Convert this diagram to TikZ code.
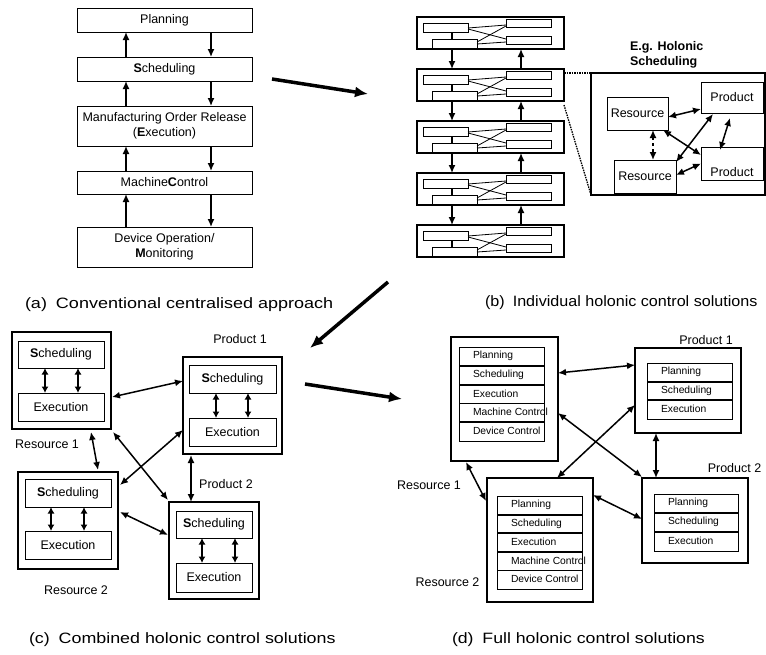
\documentclass[tikz,border=0pt]{standalone}
\usepackage{fontspec}
\usepackage{graphicx}
\setmainfont{Liberation Sans}
\usetikzlibrary{arrows.meta,calc}
\begin{document}
\begin{tikzpicture}[x=1pt,y=-1pt,
  every node/.style={font=\fontsize{12.5}{15.5}\selectfont, inner sep=0pt, outer sep=0pt},
  box/.style={draw, line width=0.9pt, fill=white, align=center},
  obox/.style={draw, line width=1.1pt, fill=white},
  minibox/.style={draw, line width=0.8pt, fill=white},
  link/.style={line width=0.8pt},
  tickline/.style={line width=1.8pt},
  uparr/.style={line width=1.4pt, -{Latex[length=8pt,width=7pt]}},
  dbl/.style={line width=1.5pt, {Latex[length=8pt,width=7pt]}-{Latex[length=8pt,width=7pt]}},
  vdbl/.style={line width=1.8pt, {Latex[length=6.5pt,width=7pt]}-{Latex[length=6.5pt,width=7pt]}},
  bigarr/.style={line width=3.5pt, -{Latex[length=13pt,width=11pt]}},
  row/.style={draw, line width=0.8pt},
  sepline/.style={line width=1.8pt},
  rowtxt/.style={font=\fontsize{10.3}{12}\selectfont, anchor=west},
  dotl/.style={line width=1.3pt, dash pattern=on 1.5pt off 1pt},
  captxt/.style={anchor=west, font=\fontsize{15}{18}\selectfont},
  lbl/.style={}
]
\useasboundingbox (0,0) rectangle (766,654);

% ---------------- (a) conventional ----------------
\node[box, minimum width=175pt, minimum height=24pt] (pl) at (164.5,20) {Planning};
\node[box, minimum width=175pt, minimum height=24pt] (sc) at (164.5,69) {{\bfseries S}cheduling};
\node[box, minimum width=175pt, minimum height=40pt] (mo) at (164.5,126) {Manufacturing Order Release\\({\bfseries E}xecution)};
\node[box, minimum width=175pt, minimum height=23pt] (mc) at (164.5,182.5) {Machine{\bfseries C}ontrol};
\node[box, minimum width=175pt, minimum height=40pt] (dv) at (164.5,247) {Device Operation/\\{\bfseries M}onitoring};
\coordinate (ax) at (126,0);
\coordinate (bx) at (211,0);
\draw[uparr] (sc.north -| ax) -- (pl.south -| ax);
\draw[uparr] (mo.north -| ax) -- (sc.south -| ax);
\draw[uparr] (mc.north -| ax) -- (mo.south -| ax);
\draw[uparr] (dv.north -| ax) -- (mc.south -| ax);
\draw[uparr] (pl.south -| bx) -- (sc.north -| bx);
\draw[uparr] (sc.south -| bx) -- (mo.north -| bx);
\draw[uparr] (mo.south -| bx) -- (mc.north -| bx);
\draw[uparr] (mc.south -| bx) -- (dv.north -| bx);
\node[captxt] (capa) at (25,305) {\scalebox{1.2}[1]{(a)\hspace{0.5em}Conventional centralised approach}};

% ---------------- (b) individual ----------------
\coordinate (tx) at (452,0);
\coordinate (ux) at (521,0);
\foreach \k in {0,...,4} {
  \pgfmathsetmacro\t{17+52*\k}
  \node[obox, minimum width=147pt, minimum height=32pt, anchor=north west] (b\k) at (417,\t) {};
  \node[minibox, minimum width=45pt, minimum height=9pt, anchor=north west] (b\k-ul) at (423,{\t+6}) {};
  \node[minibox, minimum width=45pt, minimum height=9pt, anchor=north west] (b\k-ll) at (432,{\t+22}) {};
  \node[minibox, minimum width=45pt, minimum height=8pt, anchor=north west] (b\k-ur) at (506,{\t+2}) {};
  \node[minibox, minimum width=45pt, minimum height=8pt, anchor=north west] (b\k-lr) at (506,{\t+19}) {};
  \draw[tickline] (b\k-ul.south -| tx) -- (b\k-ll.north -| tx);
  \draw[link] ([yshift=-0.5pt]b\k-ul.east) -- ([yshift=-2pt]b\k-ur.west);
  \draw[link] ([yshift=-1.5pt]b\k-ul.east) -- ([yshift=1pt]b\k-lr.west);
  \draw[link] ([yshift=1.5pt]b\k-ll.east) -- ([yshift=-3pt]b\k-ur.west);
  \draw[link] ([yshift=-0.5pt]b\k-ll.east) -- ([yshift=-2pt]b\k-lr.west);
}
\foreach \k/\n in {0/1,1/2,2/3,3/4} {
  \draw[uparr] (b\k.south -| tx) -- (b\n.north -| tx);
  \draw[uparr] (b\n.north -| ux) -- (b\k.south -| ux);
}
% holonic scheduling detail
\node[obox, minimum width=174pt, minimum height=122pt] (hb) at (678,134) {};
\node[anchor=west, align=left, font=\bfseries\fontsize{12.5}{15}\selectfont] (hbt) at (630,54.5) {E.g. Holonic\\Scheduling};
\draw[dotl] (b1.east |- hb.north) -- (hb.north west);
\draw[dotl] ([yshift=-4pt]b1.south east) -- (hb.south west);
\node[box, minimum width=61pt, minimum height=33pt] (hr1) at (637.5,113.5) {Resource};
\node[box, minimum width=62pt, minimum height=33pt] (hr2) at (645,176.5) {Resource};
\node[box, minimum width=62pt, minimum height=31pt] (hp1) at (732,97.5) {Product};
\node[box, minimum width=62pt, minimum height=33pt] (hp2) at (732,163.5) {};
\node (hp2t) at (732,172) {Product};
\draw[dbl] ($(hr1.east)+(0,3.5)$) -- ($(hp1.west)+(0,11.5)$);
\draw[dbl, dashed] ($(hr1.south)+(15.5,0)$) -- ($(hr2.north)+(8,0)$);
\draw[dbl] ($(hr1.south east)+(-5,0)$) -- ($(hp2.west)+(0,-8.5)$);
\draw[dbl] ($(hr2.north east)+(0,2)$) -- ($(hp1.south west)+(12,1)$);
\draw[dbl] ($(hr2.east)+(0,-1.5)$) -- (hp2.west);
\draw[dbl] ($(hp1.south)+(-2,5)$) -- ($(hp2.north)+(-12,3)$);
\node[captxt] (capb) at (485,303) {\scalebox{1.075}[1]{(b)\hspace{0.5em}Individual holonic control solutions}};

% ---------------- big arrows ----------------
\coordinate (g1s) at (272,79);
\coordinate (g1e) at (368,94);
\coordinate (g2s) at (388,282);
\coordinate (g2e) at (310,348);
\coordinate (g3s) at (305,384);
\coordinate (g3e) at (402,399);
\draw[bigarr] (g1s) -- (g1e);
\draw[bigarr] (g2s) -- (g2e);
\draw[bigarr] (g3s) -- (g3e);

% ---------------- (c) combined ----------------
\node[obox, minimum width=99pt, minimum height=97pt] (cR1) at (61.5,380.5) {};
\node[box, minimum width=86pt, minimum height=27pt] (cR1s) at (61,354.5) {{\bfseries S}cheduling};
\node[box, minimum width=86pt, minimum height=28pt] (cR1e) at (61,407) {Execution};
\draw[vdbl] ($(cR1s.south)+(-16,0)$) -- ($(cR1e.north)+(-16,0)$);
\draw[vdbl] ($(cR1s.south)+(17,0)$) -- ($(cR1e.north)+(17,0)$);

\node[obox, minimum width=99pt, minimum height=97pt] (cP1) at (232.5,405.5) {};
\node[box, minimum width=87pt, minimum height=28pt] (cP1s) at (232.5,379) {{\bfseries S}cheduling};
\node[box, minimum width=87pt, minimum height=28pt] (cP1e) at (232.5,432) {Execution};
\draw[vdbl] ($(cP1s.south)+(-16.5,0)$) -- ($(cP1e.north)+(-16.5,0)$);
\draw[vdbl] ($(cP1s.south)+(15.5,0)$) -- ($(cP1e.north)+(15.5,0)$);

\node[obox, minimum width=100pt, minimum height=97pt] (cR2) at (68,520.5) {};
\node[box, minimum width=86pt, minimum height=28pt] (cR2s) at (68,493) {{\bfseries S}cheduling};
\node[box, minimum width=86pt, minimum height=28pt] (cR2e) at (68,545) {Execution};
\draw[vdbl] ($(cR2s.south)+(-17,0)$) -- ($(cR2e.north)+(-17,0)$);
\draw[vdbl] ($(cR2s.south)+(16,0)$) -- ($(cR2e.north)+(16,0)$);

\node[obox, minimum width=90pt, minimum height=97pt] (cP2) at (214,550.5) {};
\node[box, minimum width=76pt, minimum height=27pt] (cP2s) at (214,524.5) {{\bfseries S}cheduling};
\node[box, minimum width=76pt, minimum height=29pt] (cP2e) at (214,577.5) {Execution};
\draw[vdbl] ($(cP2s.south)+(-12,0)$) -- ($(cP2e.north)+(-12,0)$);
\draw[vdbl] ($(cP2s.south)+(21,0)$) -- ($(cP2e.north)+(21,0)$);

\node[lbl] (cR1l) at (47,444) {Resource 1};
\node[lbl] (cP1l) at (240,339) {Product 1};
\node[lbl] (cP2l) at (226,484) {Product 2};
\node[lbl] (cR2l) at (76,590) {Resource 2};

\draw[dbl] ($(cR1.east)+(1,16.5)$) -- ($(cP1.west)+(0,-24.5)$);
\draw[dbl] ($(cR1.south)+(29.5,3)$) -- ($(cR2.north)+(30,-2)$);
\draw[dbl] ($(cR1.south east)+(2,3)$) -- ($(cP2.north west)+(-1,-2)$);
\draw[dbl] ($(cR2.north east)+(2,13)$) -- ($(cP1.west)+(0,24.5)$);
\draw[dbl] ($(cR2.east)+(2,-8.5)$) -- ($(cP2.west)+(-1,-15.5)$);
\draw[dbl] ($(cP1.south west)+(8,1)$) -- ($(cP2.north)+(-23,0)$);
\node[captxt] (capc) at (29,640) {\scalebox{1.19}[1]{(c)\hspace{0.5em}Combined holonic control solutions}};

% ---------------- (d) full ----------------
\node[obox, minimum width=107pt, minimum height=124pt] (dR1) at (504.5,399) {};
\foreach \t [count=\i from 0] in {Planning,Scheduling,Execution,Machine Control,Device Control} {
  \node[row, minimum width=85pt, minimum height=18.8pt, anchor=north west] (dR1r\i) at (459,{347+18.8*\i}) {};
  \node[rowtxt] (dR1t\i) at (473,{355.9+18.8*\i}) {\t};
}
\foreach \i in {0,...,3} \draw[sepline] (dR1r\i.south west) -- (dR1r\i.south east);

\node[obox, minimum width=106pt, minimum height=124pt] (dR2) at (540,540) {};
\foreach \t [count=\i from 0] in {Planning,Scheduling,Execution,Machine Control,Device Control} {
  \node[row, minimum width=85pt, minimum height=18.6pt, anchor=north west] (dR2r\i) at (497,{496+18.6*\i}) {};
  \node[rowtxt] (dR2t\i) at (511,{504.8+18.6*\i}) {\t};
}
\foreach \i in {0,...,3} \draw[sepline] (dR2r\i.south west) -- (dR2r\i.south east);

\node[obox, minimum width=106pt, minimum height=85pt] (dP1) at (688,390.5) {};
\foreach \t [count=\i from 0] in {Planning,Scheduling,Execution} {
  \node[row, minimum width=85pt, minimum height=18.67pt, anchor=north west] (dP1r\i) at (647,{363+18.67*\i}) {};
  \node[rowtxt] (dP1t\i) at (661,{371.8+18.67*\i}) {\t};
}
\foreach \i in {0,1} \draw[sepline] (dP1r\i.south west) -- (dP1r\i.south east);

\node[obox, minimum width=106pt, minimum height=85pt] (dP2) at (695,520.5) {};
\foreach \t [count=\i from 0] in {Planning,Scheduling,Execution} {
  \node[row, minimum width=84pt, minimum height=19pt, anchor=north west] (dP2r\i) at (654,{494+19*\i}) {};
  \node[rowtxt] (dP2t\i) at (668,{502.5+19*\i}) {\t};
}
\foreach \i in {0,1} \draw[sepline] (dP2r\i.south west) -- (dP2r\i.south east);

\node[lbl] (dR1l) at (429,485) {Resource 1};
\node[lbl] (dP1l) at (706,340) {Product 1};
\node[lbl] (dP2l) at (734.5,468) {Product 2};
\node[lbl] (dR2l) at (447.5,582) {Resource 2};

\draw[dbl] ($(dR1.east)+(0,-26)$) -- ($(dP1.west)+(0,-25.5)$);
\draw[dbl] ($(dR1.east)+(0,14)$) -- ($(dP2.north west)+(0,-1)$);
\draw[dbl] ($(dR2.north east)+(-36,0)$) -- ($(dP1.west)+(0,14.5)$);
\draw[dbl] ($(dP1.south)+(-32,0)$) -- ($(dP2.north)+(-39,0)$);
\draw[dbl] ($(dR1.south west)+(15,1)$) -- ($(dR2.west)+(-1,-39)$);
\draw[dbl] ($(dR2.east)+(0,-45)$) -- ($(dP2.west)+(0,-1.5)$);
\node[captxt] (capd) at (452,640) {\scalebox{1.18}[1]{(d)\hspace{0.5em}Full holonic control solutions}};
\end{tikzpicture}
\end{document}
